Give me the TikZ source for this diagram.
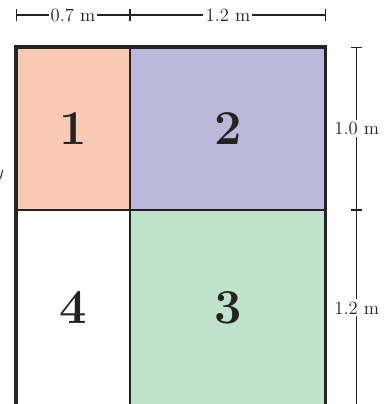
\documentclass[tikz,border=0pt]{standalone}
\usepackage{amsmath}
\usepackage{tikz}
\usetikzlibrary{arrows.meta}

\definecolor{cellpeach}{RGB}{251,202,180}
\definecolor{cellpurple}{RGB}{188,184,220}
\definecolor{cellgreen}{RGB}{193,226,202}
\definecolor{inkdark}{RGB}{35,35,35}

\tikzset{
  dimline/.style={line width=0.8pt,draw=inkdark,{Bar[width=8pt]}-{Bar[width=8pt]}},
  dimlabel/.style={fill=white,inner sep=1.5pt,font=\fontsize{13}{15}\selectfont,text=inkdark},
  cellnum/.style={font=\fontsize{34}{40}\selectfont\bfseries,text=inkdark}
}

\begin{document}
\begin{tikzpicture}[x=4cm,y=4cm]
  \useasboundingbox (-0.098,-2.190) rectangle (2.282,0.288);
  % cells
  \fill[cellpeach] (0,0) rectangle (0.7,-1);
  \fill[cellpurple] (0.7,0) rectangle (1.9,-1);
  \fill[cellgreen] (0.7,-1) rectangle (1.9,-2.2);
  \draw[inkdark,line width=1pt] (0.7,0) -- (0.7,-2.2);
  \draw[inkdark,line width=1pt] (0,-1) -- (1.9,-1);
  \draw[inkdark,line width=2.2pt] (0,0) rectangle (1.9,-2.2);
  \node[cellnum] (n1) at (0.35,-0.5) {1};
  \node[cellnum] (n2) at (1.3,-0.5) {2};
  \node[cellnum] (n3) at (1.3,-1.6) {3};
  \node[cellnum] (n4) at (0.35,-1.6) {4};
  % axis label, cut off at the left
  \node[anchor=east,font=\fontsize{13}{15}\selectfont,text=inkdark] (ylab) at (-0.042,-0.79) {$y$};
  % widths
  \coordinate (w0) at (0,0.196);
  \coordinate (w1) at (0.7,0.196);
  \coordinate (w2) at (1.9,0.196);
  \draw[dimline] (w0) -- node[dimlabel] {0.7 m} (w1);
  \draw[dimline] (w1) -- node[dimlabel] {1.2 m} (w2);
  % heights
  \coordinate (h0) at (2.09,0);
  \coordinate (h1) at (2.09,-1);
  \coordinate (h2) at (2.09,-2.2);
  \draw[dimline] (h0) -- node[dimlabel] {1.0 m} (h1);
  \draw[dimline] (h1) -- node[dimlabel] {1.2 m} (h2);
\end{tikzpicture}
\end{document}
